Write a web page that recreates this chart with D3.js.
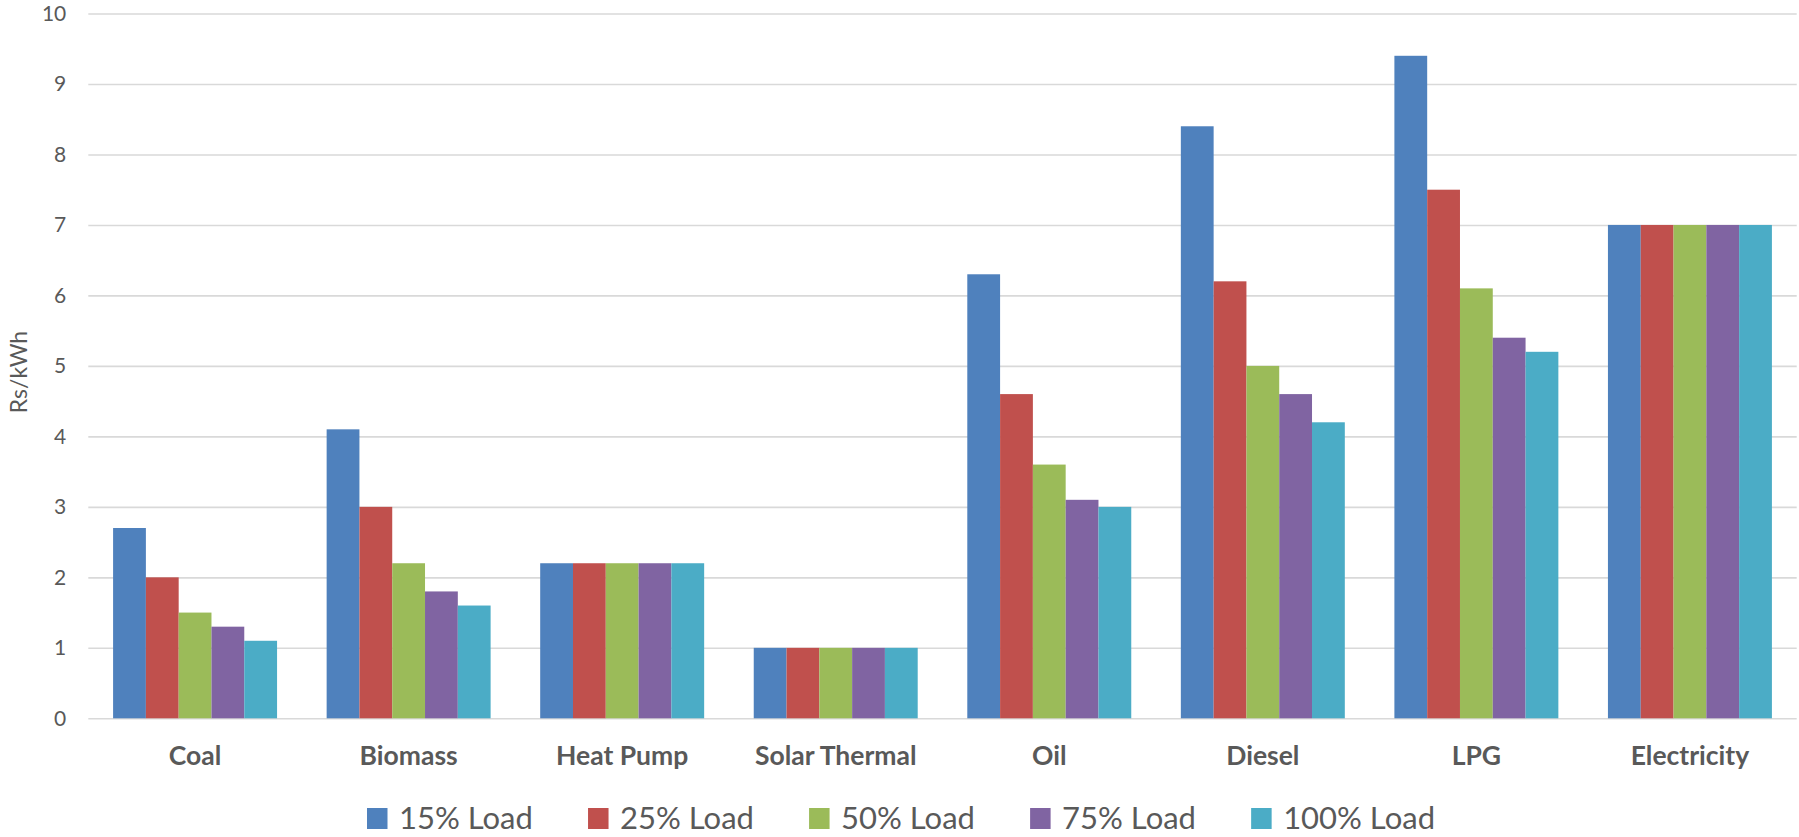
<!DOCTYPE html>
<html>
<head>
<meta charset="utf-8">
<script src="https://cdn.jsdelivr.net/npm/d3@7"></script>
<style>
  html, body { margin: 0; padding: 0; background: #ffffff; }
  svg { display: block; font-family: Lato, "Open Sans", sans-serif; }
</style>
</head>
<body>
<svg id="chart" width="1799" height="837"></svg>
<script>
// Heating cost per kWh by fuel at different load levels
const categories = ["Coal", "Biomass", "Heat Pump", "Solar Thermal", "Oil", "Diesel", "LPG", "Electricity"];
const seriesNames = ["15% Load", "25% Load", "50% Load", "75% Load", "100% Load"];
const load15  = [2.7, 4.1, 2.2, 1.0, 6.3, 8.4, 9.4, 7.0];
const load25  = [2.0, 3.0, 2.2, 1.0, 4.6, 6.2, 7.5, 7.0];
const load50  = [1.5, 2.2, 2.2, 1.0, 3.6, 5.0, 6.1, 7.0];
const load75  = [1.3, 1.8, 2.2, 1.0, 3.1, 4.6, 5.4, 7.0];
const load100 = [1.1, 1.6, 2.2, 1.0, 3.0, 4.2, 5.2, 7.0];
const yTicks = [0, 1, 2, 3, 4, 5, 6, 7, 8, 9, 10];
const yLabel = "Rs/kWh";

const seriesValues = [load15, load25, load50, load75, load100];
const colors = ["#4F81BD", "#C0504D", "#9BBB59", "#8064A2", "#4BACC6"];
const textColor = "#595959";

const svg = d3.select("#chart");
const plot = { left: 88.3, right: 1796.7, top: 13.5, bottom: 718.3 };

const x0 = d3.scaleBand().domain(categories).range([plot.left, plot.right]).paddingInner(0).paddingOuter(0);
const x1 = d3.scaleBand().domain(seriesNames).range([0, x0.bandwidth()]).paddingInner(0).paddingOuter(0.756);
const y = d3.scaleLinear().domain([0, 10]).range([plot.bottom, plot.top]);

// Horizontal gridlines with tick labels
const yAxis = d3.axisLeft(y).tickValues(yTicks).tickSize(-(plot.right - plot.left)).tickPadding(22).tickFormat(d3.format("d"));
const gy = svg.append("g").attr("transform", `translate(${plot.left},0)`).call(yAxis);
gy.select(".domain").remove();
gy.selectAll(".tick line").attr("stroke", "#D9D9D9").attr("stroke-width", 1.6);
gy.selectAll(".tick text").attr("fill", textColor).attr("font-size", 21).attr("font-family", "Lato");

// Bars
const rows = categories.map((c, i) => ({ cat: c, vals: seriesNames.map((s, j) => ({ s, j, v: seriesValues[j][i] })) }));
const groups = svg.append("g").selectAll("g").data(rows).join("g")
  .attr("transform", d => `translate(${x0(d.cat)},0)`);
groups.selectAll("rect").data(d => d.vals).join("rect")
  .attr("x", d => x1(d.s))
  .attr("width", x1.bandwidth())
  .attr("y", d => y(d.v))
  .attr("height", d => y(0) - y(d.v))
  .attr("fill", d => colors[d.j]);

// Category labels
const xAxis = d3.axisBottom(x0).tickSize(0).tickPadding(0);
const gx = svg.append("g").attr("transform", `translate(0,${plot.bottom})`).call(xAxis);
gx.select(".domain").remove();
gx.selectAll(".tick text")
  .attr("y", 47).attr("dy", 0)
  .attr("fill", textColor).attr("font-size", 26.5).attr("font-weight", "bold").attr("font-family", "Lato");

// Y axis title
svg.append("text")
  .attr("transform", "translate(27,372) rotate(-90)")
  .attr("text-anchor", "middle")
  .attr("fill", textColor).attr("font-size", 23)
  .text(yLabel);

// Legend: swatch + label, spread between fixed left and right edges
const legendLeft = 367, legendRight = 1435;
const legend = svg.append("g");
const items = legend.selectAll("g").data(seriesNames).join("g");
items.append("rect").attr("width", 20.5).attr("height", 21).attr("y", 808)
  .attr("fill", (d, i) => colors[i]);
items.append("text").attr("x", 32).attr("y", 829)
  .attr("fill", textColor).attr("font-size", 31).text(d => d);
const widths = [];
items.each(function () {
  widths.push(32 + d3.select(this).select("text").node().getComputedTextLength());
});
const gap = (legendRight - legendLeft - d3.sum(widths)) / (widths.length - 1);
const offsets = [];
let cursor = legendLeft;
widths.forEach(w => { offsets.push(cursor); cursor += w + gap; });
items.attr("transform", (d, i) => `translate(${offsets[i]},0)`);
</script>
</body>
</html>
